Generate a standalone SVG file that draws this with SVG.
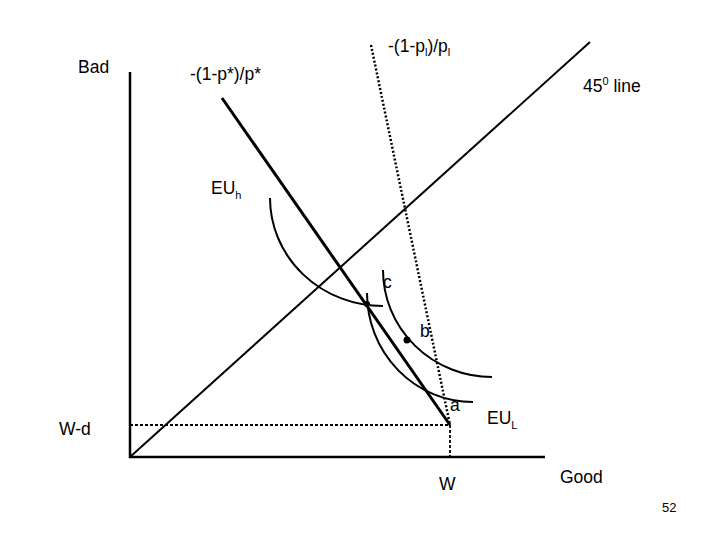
<svg xmlns="http://www.w3.org/2000/svg" width="720" height="540" viewBox="0 0 720 540">
<style>
.t{font-family:"Liberation Sans",Arial,sans-serif;font-size:17.5px;fill:#000}
.s{font-size:11px}
.ln{fill:none;stroke:#000}
</style>
<rect width="720" height="540" fill="#fff"/>
<g id="connectors">
<path class="ln" d="M130,72 V457 H545" stroke-width="2.5"/>
<path class="ln" d="M130,457 L590,42" stroke-width="2"/>
<path class="ln" d="M222,98 L450,425" stroke-width="3"/>
<path class="ln" d="M371,45 L450,425" stroke-width="2.5" stroke-dasharray="2,2"/>
<path class="ln" d="M130,425 H450 V457" stroke-width="1.8" stroke-dasharray="3,2"/>
<path class="ln" d="M270,198 A113,108 0 0 0 383,306" stroke-width="2"/>
<path class="ln" d="M383,270 A109,107 0 0 0 492,377" stroke-width="2"/>
<path class="ln" d="M367,293 A106,109 0 0 0 473,402" stroke-width="2"/>
</g>
<g id="point-a"><text class="t" x="450" y="411">a</text></g>
<g id="point-b"><circle cx="407" cy="340" r="3.5"/><text class="t" x="420" y="337">b</text></g>
<g id="point-c"><circle cx="367" cy="304" r="3"/><text class="t" x="383" y="288">c</text></g>
<g id="labels">
<text class="t" x="78" y="73">Bad</text>
<text class="t" x="190" y="80">-(1-p*)/p*</text>
<text class="t" x="388" y="52">-(1-p<tspan class="s" dy="4">l</tspan><tspan dy="-4">)/p</tspan><tspan class="s" dy="4">l</tspan></text>
<text class="t" x="583" y="92">45<tspan class="s" dy="-7">0</tspan><tspan dy="7"> line</tspan></text>
<text class="t" x="211" y="194">EU<tspan class="s" dy="5">h</tspan></text>
<text class="t" x="487" y="424">EU<tspan class="s" dy="5">L</tspan></text>
<text class="t" x="59" y="435">W-d</text>
<text class="t" x="439" y="490">W</text>
<text class="t" x="560" y="483">Good</text>
<text class="t" x="662" y="512" style="font-size:13px">52</text>
</g>
</svg>
